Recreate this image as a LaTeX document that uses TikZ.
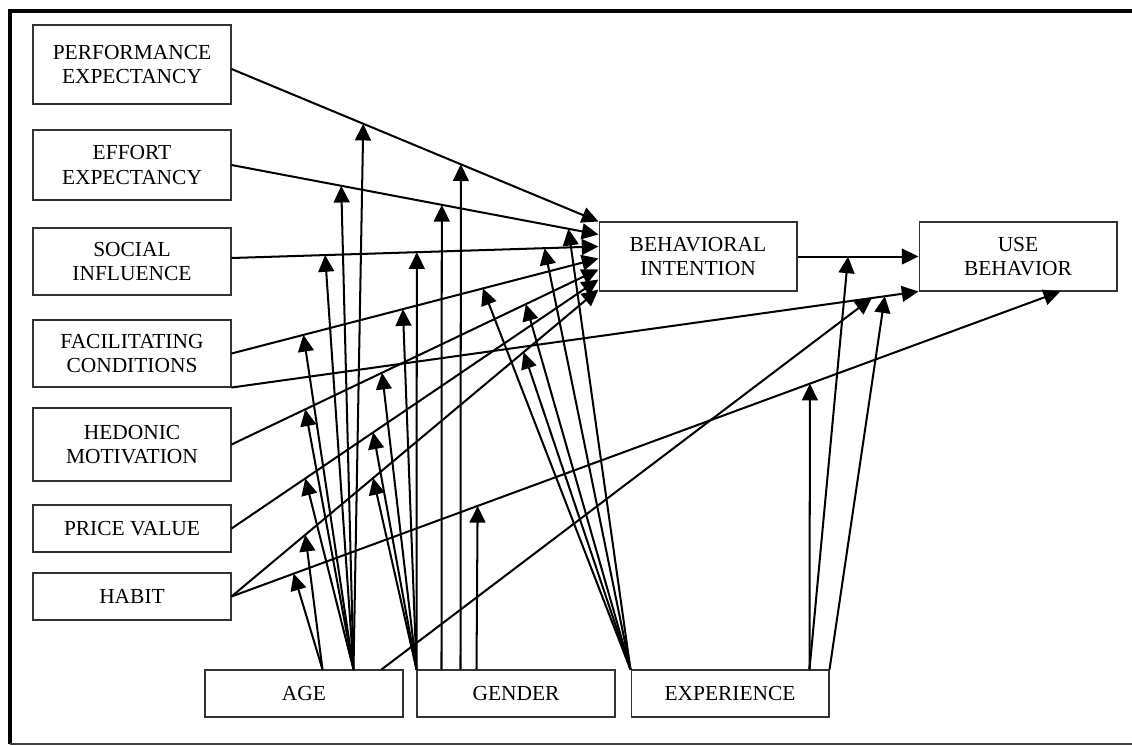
\documentclass[tikz,border=0pt]{standalone}
\usepackage{fontspec}
\setmainfont{Liberation Serif}
\usetikzlibrary{arrows.meta,calc}
\begin{document}
\begin{tikzpicture}[x=0.02cm,y=-0.02cm,
  box/.style={draw=black!80, line width=0.6pt, minimum width=3.96cm, inner sep=0pt,
              align=center, font=\fontsize{12.2}{13.8}\selectfont},
  arr/.style={-{Triangle[length=9.5pt,width=9pt]}, line width=1.15pt}]
\useasboundingbox (0,0) rectangle (1132,745);

% frame
\draw[line width=2.4pt] (10.3,744) -- (10.3,11.3) -- (1132,11.3);
\draw[black!75, line width=0.6pt] (10.3,744) -- (1132,744);

% constructs
\node[box, minimum height=1.58cm] (pe) at (132,64.5) {PERFORMANCE\\EXPECTANCY};
\node[box, minimum height=1.40cm] (ee) at (132,165) {EFFORT\\EXPECTANCY};
\node[box, minimum height=1.34cm] (si) at (132,261.5) {SOCIAL\\INFLUENCE};
\node[box, minimum height=1.34cm] (fc) at (132,353.5) {FACILITATING\\CONDITIONS};
\node[box, minimum height=1.46cm] (hm) at (132,444.5) {HEDONIC\\MOTIVATION};
\node[box, minimum height=0.94cm] (pv) at (132,528.5) {PRICE VALUE};
\node[box, minimum height=0.94cm] (hb) at (132,596.5) {HABIT};
\node[box, minimum height=0.94cm] (age) at (304,693.5) {AGE};
\node[box, minimum height=0.94cm] (gen) at (516,693.5) {GENDER};
\node[box, minimum height=0.94cm] (xp) at (730,693.5) {EXPERIENCE};
\node[box, minimum height=1.38cm] (bi) at (698,256.5) {BEHAVIORAL\\INTENTION};
\node[box, minimum height=1.38cm] (ub) at (1018,256.5) {USE\\BEHAVIOR};

% line ends
\coordinate (pe-o) at ($(pe.east)+(0,4.5)$);
\coordinate (si-o) at ($(si.east)+(0,-3.5)$);
\coordinate (bi-pe) at (bi.north west);
\coordinate (bi-ee) at ($(bi.north west)+(0,13)$);
\coordinate (bi-si) at ($(bi.north west)+(0,25)$);
\coordinate (bi-fc) at ($(bi.north west)+(0,37)$);
\coordinate (bi-hm) at ($(bi.north west)+(0,48)$);
\coordinate (bi-pv) at ($(bi.north west)+(0,58)$);
\coordinate (bi-hb) at ($(bi.north west)+(0,68)$);
\coordinate (ub-hb) at ($(ub.south west)!0.712!(ub.south east)$);

% moderator origins
\coordinate (a1) at ($(age.north west)+(118,0)$);
\coordinate (a2) at ($(age.north west)+(149,0)$);
\coordinate (a3) at ($(age.north west)+(177,0)$);
\coordinate (g0) at (gen.north west);
\coordinate (g1) at ($(gen.north west)+(25,0)$);
\coordinate (g2) at ($(gen.north west)+(44,0)$);
\coordinate (g3) at ($(gen.north west)+(60,0)$);
\coordinate (e0) at (xp.north west);
\coordinate (e1) at ($(xp.north west)+(179,0)$);
\coordinate (e2) at (xp.north east);

% direct effects
\draw[arr] (pe-o) -- coordinate[pos=0.359] (pe-a) coordinate[pos=0.625] (pe-g) (bi-pe);
\draw[arr] (ee.east) -- coordinate[pos=0.299] (ee-a) coordinate[pos=0.573] (ee-g) coordinate[pos=0.918] (ee-e) (bi-ee);
\draw[arr] (si-o) -- coordinate[pos=0.255] (si-a) coordinate[pos=0.505] (si-g) coordinate[pos=0.853] (si-e) (bi-si);
\draw[arr] (fc.east) -- coordinate[pos=0.196] (fc-a) coordinate[pos=0.467] (fc-g) coordinate[pos=0.685] (fc-e) (bi-fc);
\draw[arr] (hm.east) -- coordinate[pos=0.201] (hm-a) coordinate[pos=0.410] (hm-g) coordinate[pos=0.802] (hm-e) (bi-hm);
\draw[arr] (pv.east) -- coordinate[pos=0.201] (pv-a) coordinate[pos=0.386] (pv-g) (bi-pv);
\draw[arr] (hb.east) -- coordinate[pos=0.201] (hb-a) coordinate[pos=0.386] (hb-g) coordinate[pos=0.796] (hb-e) (bi-hb);
\draw[arr] (fc.south east) -- coordinate[pos=0.932] (fu-a) coordinate[pos=0.951] (fu-e) (ub.south west);
\draw[arr] (hb.east) -- coordinate[pos=0.075] (hu-a) coordinate[pos=0.297] (hu-g) coordinate[pos=0.698] (hu-e) (ub-hb);
\draw[arr] (bi) -- coordinate[pos=0.418] (bu-e) (ub);

% age
\foreach \t in {pe-a,ee-a,si-a,fc-a,hm-a,pv-a} \draw[arr] (a2) -- (\t);
\draw[arr] (a1) -- (hb-a);
\draw[arr] (a1) -- (hu-a);
\draw[arr] (a3) -- (fu-a);

% gender
\foreach \t in {si-g,fc-g,hm-g,pv-g,hb-g} \draw[arr] (g0) -- (\t);
\draw[arr] (g1) -- (ee-g);
\draw[arr] (g2) -- (pe-g);
\draw[arr] (g3) -- (hu-g);

% experience
\foreach \t in {ee-e,si-e,fc-e,hm-e,hb-e} \draw[arr] (e0) -- (\t);
\draw[arr] (e1) -- (hu-e);
\draw[arr] (e1) -- (bu-e);
\draw[arr] (e2) -- (fu-e);
\end{tikzpicture}
\end{document}
